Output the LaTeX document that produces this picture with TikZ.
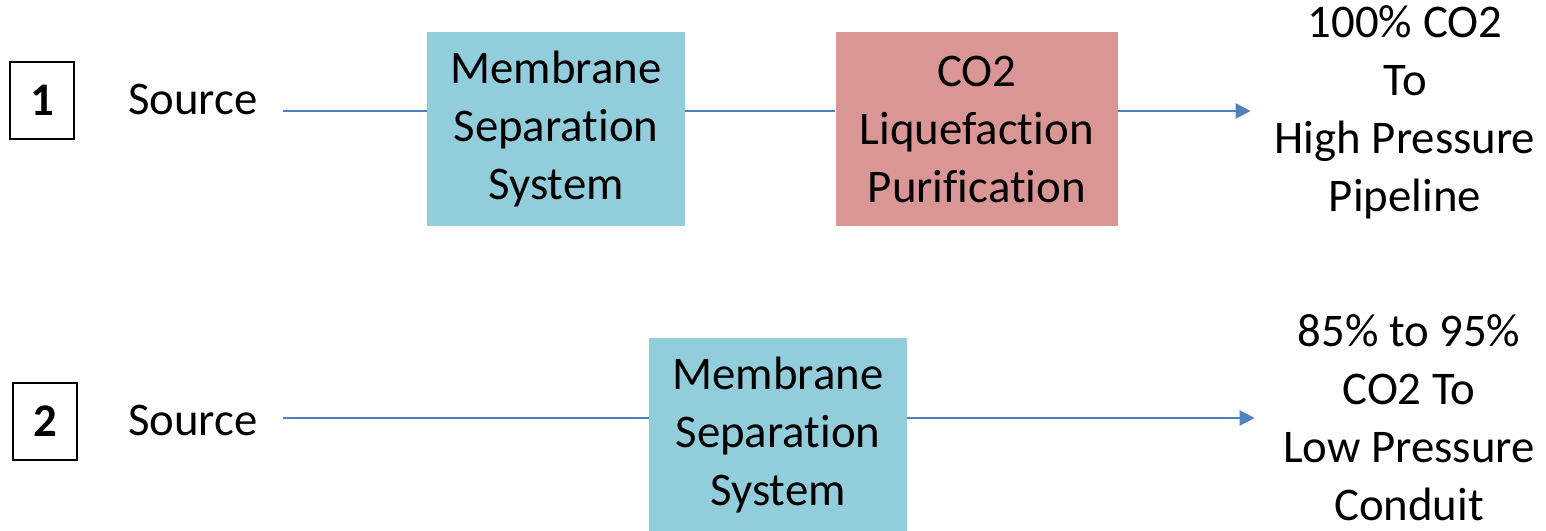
\documentclass[tikz,border=0pt]{standalone}
\usepackage{fontspec}
\setmainfont{Carlito}[Ligatures=CommonOff]
\usepackage{xcolor}
\usepackage{tikz}
\usetikzlibrary{positioning,arrows.meta}

\definecolor{memblue}{RGB}{146,205,220}
\definecolor{liqred}{RGB}{218,150,148}
\definecolor{flowblue}{RGB}{79,129,189}

\begin{document}
\begin{tikzpicture}[
  x=0.5pt, y=-0.5pt,
  txt/.style={font=\fontsize{23.4}{29}\selectfont, align=center, inner sep=0pt},
  stage/.style={txt, minimum width=129pt, minimum height=97pt},
  mem/.style={stage, fill=memblue},
  liq/.style={stage, fill=liqred, minimum width=141pt},
  num/.style={draw, line width=0.8pt, minimum width=32pt, minimum height=38.5pt,
    inner sep=0pt, font=\fontsize{23.4}{29}\selectfont\bfseries},
  outtxt/.style={txt, minimum width=154pt},
  flow/.style={draw=flowblue, line width=1.3pt},
  flowarr/.style={flow, -{Triangle[length=7.5pt, width=7.5pt]}}
]
\useasboundingbox (0,0) rectangle (1546,530);

% ── Option 1 ──
\node[num]                    (num1) at (42,100.5) {1};
\node[txt]                    (src1) at (193,99) {Source};
\node[mem]                    (mem1) at (556,129) {Membrane\\Separation\\System};
\node[liq, right=75pt of mem1] (liq1) {CO2\\Liquefaction\\Purification};
\node[outtxt]                 (out1) at (1405,112) {100\% CO2\\To\\High Pressure\\Pipeline};

\coordinate (lv1) at ([xshift=12.5pt, yshift=-6pt]src1.east);
\draw[flow] (lv1) -- (lv1 -| mem1.west);
\draw[flow] (lv1 -| mem1.east) -- (lv1 -| liq1.west);
\draw[flowarr] (lv1 -| liq1.east) -- (lv1 -| out1.west);

% ── Option 2 ──
\node[num]                    (num2) at (45,421.5) {2};
\node[txt]                    (src2) at (193,420) {Source};
\node[mem]                    (mem2) at (778,435) {Membrane\\Separation\\System};
\node[outtxt]                 (out2) at (1409,418) {85\% to 95\%\\CO2 To\\Low Pressure\\Conduit};

\coordinate (lv2) at ([xshift=12.5pt, yshift=1pt]src2.east);
\draw[flow] (lv2) -- (lv2 -| mem2.west);
\draw[flowarr] (lv2 -| mem2.east) -- (lv2 -| out2.west);

\end{tikzpicture}
\end{document}
